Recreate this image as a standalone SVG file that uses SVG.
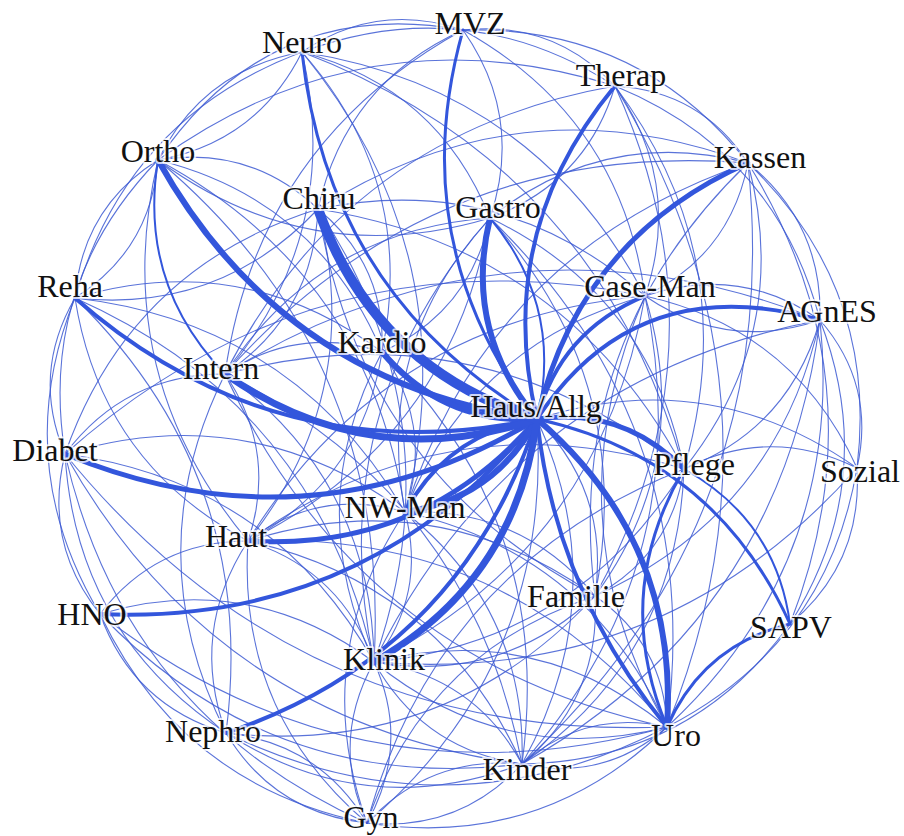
<svg xmlns="http://www.w3.org/2000/svg" width="904" height="836" viewBox="0 0 904 836">
<style>
  .bg { fill: #ffffff; }
  #edges path { fill: none; stroke: #3356dc; stroke-linecap: round; }
  #edges .t { stroke: #3d5ad2; stroke-width: 1.1; stroke-opacity: 0.85; }
  .node text { font-family: "Liberation Serif", "Times New Roman", serif; font-size: 32px; fill: #111111; text-anchor: middle; stroke: #ffffff; stroke-width: 4; stroke-opacity: 0.75; stroke-linejoin: round; paint-order: stroke fill; }
</style>
<rect class="bg" x="0" y="0" width="904" height="836"/>

<g id="edges">
  <!-- thin connections -->
  <path class="t" d="M302 52Q377 1 463 30"/>
  <path class="t" d="M463 30Q553 20 615 86"/>
  <path class="t" d="M615 86Q701 91 748 163"/>
  <path class="t" d="M748 163Q823 224 820 320"/>
  <path class="t" d="M820 320Q876 385 857 468"/>
  <path class="t" d="M857 468Q863 563 790 624"/>
  <path class="t" d="M667 727Q604 782 522 764"/>
  <path class="t" d="M522 764Q459 832 367 823"/>
  <path class="t" d="M367 823Q274 813 226 733"/>
  <path class="t" d="M226 733Q133 705 100 614"/>
  <path class="t" d="M100 614Q43 543 65 454"/>
  <path class="t" d="M65 454Q31 374 75 298"/>
  <path class="t" d="M75 298Q82 208 158 160"/>
  <path class="t" d="M158 160Q151 250 75 298"/>
  <path class="t" d="M158 160Q203 70 302 52"/>
  <path class="t" d="M302 52Q257 142 158 160"/>
  <path class="t" d="M302 52Q467 -9 615 86"/>
  <path class="t" d="M615 86Q776 152 820 320"/>
  <path class="t" d="M748 163Q879 288 857 468"/>
  <path class="t" d="M820 320Q881 480 790 624"/>
  <path class="t" d="M857 468Q827 645 667 727"/>
  <path class="t" d="M790 624Q691 761 522 764"/>
  <path class="t" d="M667 727Q541 850 367 823"/>
  <path class="t" d="M522 764Q366 823 226 733"/>
  <path class="t" d="M367 823Q181 785 100 614"/>
  <path class="t" d="M226 733Q76 634 65 454"/>
  <path class="t" d="M100 614Q9 462 75 298"/>
  <path class="t" d="M65 454Q38 284 158 160"/>
  <path class="t" d="M75 298Q127 118 302 52"/>
  <path class="t" d="M158 160Q270 -5 463 30"/>
  <path class="t" d="M463 30Q639 25 748 163"/>
  <path class="t" d="M158 160Q368 9 615 86"/>
  <path class="t" d="M318 209Q522 79 748 163"/>
  <path class="t" d="M225 374Q434 138 748 163"/>
  <path class="t" d="M615 86Q683 184 645 296"/>
  <path class="t" d="M615 86Q745 260 684 469"/>
  <path class="t" d="M615 86Q733 346 595 596"/>
  <path class="t" d="M615 86Q586 183 490 218"/>
  <path class="t" d="M225 374Q348 133 615 86"/>
  <path class="t" d="M748 163Q730 255 645 296"/>
  <path class="t" d="M748 163Q793 332 684 469"/>
  <path class="t" d="M595 596Q563 341 748 163"/>
  <path class="t" d="M748 163Q785 520 522 764"/>
  <path class="t" d="M405 512Q489 252 748 163"/>
  <path class="t" d="M490 218Q605 126 748 163"/>
  <path class="t" d="M645 296Q739 264 820 320"/>
  <path class="t" d="M820 320Q727 352 645 296"/>
  <path class="t" d="M820 320Q789 429 684 469"/>
  <path class="t" d="M820 320Q777 514 595 596"/>
  <path class="t" d="M820 320Q845 562 667 727"/>
  <path class="t" d="M225 374Q509 198 820 320"/>
  <path class="t" d="M374 662Q512 380 820 320"/>
  <path class="t" d="M820 320Q782 617 522 764"/>
  <path class="t" d="M684 469Q770 425 857 468"/>
  <path class="t" d="M857 468Q664 686 374 662"/>
  <path class="t" d="M645 296Q794 329 857 468"/>
  <path class="t" d="M490 218Q650 295 684 469"/>
  <path class="t" d="M318 209Q566 248 684 469"/>
  <path class="t" d="M684 469Q577 643 374 662"/>
  <path class="t" d="M248 541Q448 396 684 469"/>
  <path class="t" d="M684 469Q671 555 595 596"/>
  <path class="t" d="M225 374Q478 307 684 469"/>
  <path class="t" d="M684 469Q677 657 522 764"/>
  <path class="t" d="M645 296Q695 459 595 596"/>
  <path class="t" d="M667 727Q548 517 645 296"/>
  <path class="t" d="M645 296Q601 547 374 662"/>
  <path class="t" d="M405 512Q471 344 645 296"/>
  <path class="t" d="M248 541Q385 319 645 296"/>
  <path class="t" d="M645 296Q701 561 522 764"/>
  <path class="t" d="M65 454Q316 230 645 296"/>
  <path class="t" d="M318 209Q503 171 645 296"/>
  <path class="t" d="M490 218Q470 312 382 352"/>
  <path class="t" d="M225 374Q319 230 490 218"/>
  <path class="t" d="M405 512Q374 344 490 218"/>
  <path class="t" d="M490 218Q637 381 595 596"/>
  <path class="t" d="M490 218Q706 428 667 727"/>
  <path class="t" d="M490 218Q450 440 248 541"/>
  <path class="t" d="M490 218Q310 272 158 160"/>
  <path class="t" d="M374 662Q321 411 490 218"/>
  <path class="t" d="M463 30Q524 117 490 218"/>
  <path class="t" d="M302 52Q438 88 490 218"/>
  <path class="t" d="M318 209Q313 315 225 374"/>
  <path class="t" d="M318 209Q219 314 75 298"/>
  <path class="t" d="M318 209Q366 393 248 541"/>
  <path class="t" d="M65 454Q130 268 318 209"/>
  <path class="t" d="M318 209Q459 422 374 662"/>
  <path class="t" d="M595 596Q360 472 318 209"/>
  <path class="t" d="M318 209Q386 265 382 352"/>
  <path class="t" d="M225 374Q298 325 382 352"/>
  <path class="t" d="M382 352Q434 426 405 512"/>
  <path class="t" d="M382 352Q362 480 248 541"/>
  <path class="t" d="M374 662Q301 505 382 352"/>
  <path class="t" d="M382 352Q555 523 522 764"/>
  <path class="t" d="M158 160Q318 200 382 352"/>
  <path class="t" d="M75 298Q242 248 382 352"/>
  <path class="t" d="M225 374Q278 452 248 541"/>
  <path class="t" d="M65 454Q125 374 225 374"/>
  <path class="t" d="M225 374Q372 481 374 662"/>
  <path class="t" d="M226 733Q136 553 225 374"/>
  <path class="t" d="M225 374Q471 495 522 764"/>
  <path class="t" d="M667 727Q358 661 225 374"/>
  <path class="t" d="M248 541Q101 463 75 298"/>
  <path class="t" d="M75 298Q316 405 374 662"/>
  <path class="t" d="M75 298Q294 323 405 512"/>
  <path class="t" d="M75 298Q259 478 226 733"/>
  <path class="t" d="M65 454Q250 398 405 512"/>
  <path class="t" d="M65 454Q272 481 374 662"/>
  <path class="t" d="M367 823Q124 714 65 454"/>
  <path class="t" d="M522 764Q216 723 65 454"/>
  <path class="t" d="M100 614Q156 541 248 541"/>
  <path class="t" d="M100 614Q249 570 374 662"/>
  <path class="t" d="M522 764Q274 795 100 614"/>
  <path class="t" d="M667 727Q355 812 100 614"/>
  <path class="t" d="M248 541Q341 570 374 662"/>
  <path class="t" d="M248 541Q441 584 522 764"/>
  <path class="t" d="M248 541Q504 529 667 727"/>
  <path class="t" d="M367 823Q237 712 248 541"/>
  <path class="t" d="M248 541Q319 487 405 512"/>
  <path class="t" d="M226 733Q189 632 248 541"/>
  <path class="t" d="M405 512Q427 595 374 662"/>
  <path class="t" d="M405 512Q590 554 667 727"/>
  <path class="t" d="M405 512Q521 507 595 596"/>
  <path class="t" d="M367 823Q308 658 405 512"/>
  <path class="t" d="M405 512Q527 609 522 764"/>
  <path class="t" d="M595 596Q501 684 374 662"/>
  <path class="t" d="M595 596Q601 698 522 764"/>
  <path class="t" d="M595 596Q445 757 226 733"/>
  <path class="t" d="M595 596Q664 644 667 727"/>
  <path class="t" d="M248 541Q435 482 595 596"/>
  <path class="t" d="M374 662Q474 676 522 764"/>
  <path class="t" d="M522 764Q423 750 374 662"/>
  <path class="t" d="M374 662Q537 621 667 727"/>
  <path class="t" d="M667 727Q504 768 374 662"/>
  <path class="t" d="M374 662Q411 744 367 823"/>
  <path class="t" d="M367 823Q330 741 374 662"/>
  <path class="t" d="M667 727Q448 840 226 733"/>
  <path class="t" d="M226 733Q319 743 367 823"/>
  <path class="t" d="M522 764Q585 709 667 727"/>
  <path class="t" d="M367 823Q430 755 522 764"/>
  <path class="t" d="M615 86Q801 394 667 727"/>
  <path class="t" d="M667 727Q298 741 65 454"/>
  <path class="t" d="M367 823Q424 653 595 596"/>
  <path class="t" d="M367 823Q437 567 684 469"/>
  <path class="t" d="M463 30Q621 118 645 296"/>
  <path class="t" d="M318 209Q346 83 463 30"/>
  <path class="t" d="M225 374Q258 143 463 30"/>
  <path class="t" d="M302 52Q417 182 382 352"/>
  <path class="t" d="M302 52Q344 232 225 374"/>
  <path class="t" d="M302 52Q469 256 405 512"/>
  <path class="t" d="M302 52Q597 165 684 469"/>
  <path class="t" d="M302 52Q535 88 645 296"/>
  <path class="t" d="M158 160Q250 145 318 209"/>
  <path class="t" d="M248 541Q108 373 158 160"/>
  <path class="t" d="M158 160Q370 274 405 512"/>
  <path class="t" d="M158 160Q392 357 374 662"/>
  <path class="t" d="M748 163Q884 383 790 624"/>
  <path class="t" d="M537 419Q610 493 595 596"/>
  <path class="t" d="M537 419Q616 595 522 764"/>
  <path class="t" d="M537 419Q553 664 367 823"/>
  <path class="t" d="M537 419Q709 364 857 468"/>

  <!-- weighted connections -->
  <path d="M225 374Q138 284 158 160" stroke-width="2"/>
  <path d="M490 218Q564 307 537 419" stroke-width="2"/>
  <path d="M684 469Q776 520 790 624" stroke-width="2"/>
  <path d="M667 727Q703 645 790 624" stroke-width="3"/>
  <path d="M667 727Q611 594 684 469" stroke-width="3"/>
  <path d="M537 419Q328 294 302 52" stroke-width="3"/>
  <path d="M537 419Q403 243 463 30" stroke-width="3"/>
  <path d="M537 419Q715 458 790 624" stroke-width="3"/>
  <path d="M537 419Q493 233 615 86" stroke-width="4"/>
  <path d="M537 419Q560 331 645 296" stroke-width="4"/>
  <path d="M537 419Q636 268 820 320" stroke-width="4"/>
  <path d="M537 419Q460 654 226 733" stroke-width="4"/>
  <path d="M405 512Q448 433 537 419" stroke-width="4"/>
  <path d="M537 419Q367 626 100 614" stroke-width="4"/>
  <path d="M537 419Q276 474 75 298" stroke-width="4"/>
  <path d="M667 727Q556 592 537 419" stroke-width="4"/>
  <path d="M537 419Q579 238 748 163" stroke-width="5"/>
  <path d="M537 419Q623 407 684 469" stroke-width="5"/>
  <path d="M537 419Q423 552 248 541" stroke-width="5"/>
  <path d="M537 419Q310 555 65 454" stroke-width="5"/>
  <path d="M537 419Q283 384 158 160" stroke-width="6"/>
  <path d="M537 419Q463 330 490 218" stroke-width="6"/>
  <path d="M537 419Q679 541 667 727" stroke-width="6"/>
  <path d="M537 419Q494 499 405 512" stroke-width="6"/>
  <path d="M537 419Q443 424 382 352" stroke-width="6"/>
  <path d="M537 419Q516 581 374 662" stroke-width="7"/>
  <path d="M537 419Q370 475 225 374" stroke-width="7"/>
  <path d="M537 419Q375 369 318 209" stroke-width="10"/>
</g>

<g id="n-mvz" class="node"><text x="470" y="34">MVZ</text></g>
<g id="n-neuro" class="node"><text x="302" y="53">Neuro</text></g>
<g id="n-therap" class="node"><text x="621" y="86">Therap</text></g>
<g id="n-ortho" class="node"><text x="158" y="162">Ortho</text></g>
<g id="n-kassen" class="node"><text x="760" y="168">Kassen</text></g>
<g id="n-chiru" class="node"><text x="319" y="209">Chiru</text></g>
<g id="n-gastro" class="node"><text x="498" y="218">Gastro</text></g>
<g id="n-reha" class="node"><text x="70" y="297">Reha</text></g>
<g id="n-caseman" class="node"><text x="650" y="297">Case-Man</text></g>
<g id="n-agnes" class="node"><text x="827" y="322">AGnES</text></g>
<g id="n-kardio" class="node"><text x="382" y="353">Kardio</text></g>
<g id="n-intern" class="node"><text x="221" y="379">Intern</text></g>
<g id="n-hausallg" class="node"><text x="536" y="417">Haus/Allg</text></g>
<g id="n-diabet" class="node"><text x="55" y="461">Diabet</text></g>
<g id="n-pflege" class="node"><text x="694" y="475">Pflege</text></g>
<g id="n-sozial" class="node"><text x="860" y="482">Sozial</text></g>
<g id="n-nwman" class="node"><text x="405" y="518">NW-Man</text></g>
<g id="n-haut" class="node"><text x="236" y="547">Haut</text></g>
<g id="n-familie" class="node"><text x="576" y="607">Familie</text></g>
<g id="n-hno" class="node"><text x="92" y="625">HNO</text></g>
<g id="n-sapv" class="node"><text x="791" y="638">SAPV</text></g>
<g id="n-klinik" class="node"><text x="384" y="670">Klinik</text></g>
<g id="n-nephro" class="node"><text x="213" y="742">Nephro</text></g>
<g id="n-uro" class="node"><text x="676" y="746">Uro</text></g>
<g id="n-kinder" class="node"><text x="527" y="780">Kinder</text></g>
<g id="n-gyn" class="node"><text x="371" y="828">Gyn</text></g>
</svg>
